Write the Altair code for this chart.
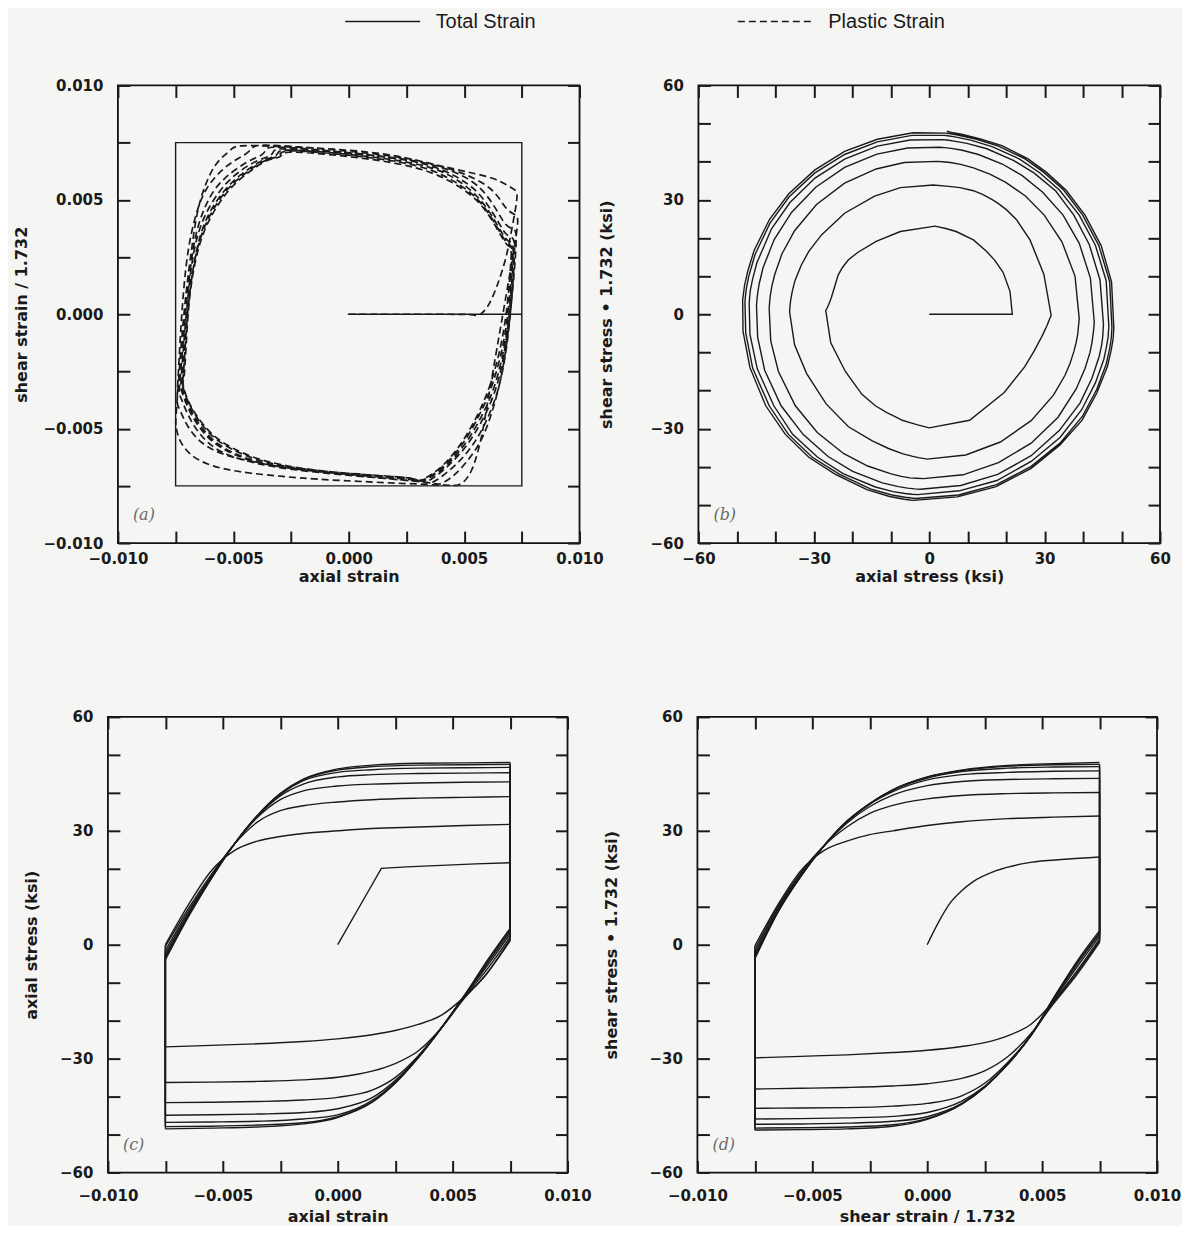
import altair as alt
import pandas as pd

# ---------------- values ----------------
E_MOD = 10500.0   # elastic slope (ksi per unit strain): ~20 ksi at 0.0019

# sampling positions (moving strain component) along one straight leg of the strain square
LEG_DOWN = [0.0075, 0.0065, 0.0055, 0.0045, 0.0035, 0.0025, 0.0015, 0.0, -0.0015, -0.0035, -0.0055, -0.0075]
LEG_UP = [-v for v in LEG_DOWN]
CORNER = 0.0075

# leg 0: axial strain 0 -> 0.0075, no shear
FIRST_AX_STRAIN = [0.0, 0.001, 0.0019, 0.003, 0.0045, 0.006, 0.0075]
FIRST_AX_STRESS = [0.0, 10.6, 20.1, 20.5, 20.9, 21.3, 21.6]
# leg 1: shear strain 0 -> 0.0075 at axial 0.0075
FIRST_SH_STRAIN = [0.0, 0.0005, 0.001, 0.0015, 0.002, 0.003, 0.0045, 0.006, 0.0075]
FIRST_SH_SHEAR = [0.0, 6.0, 11.0, 14.2, 16.6, 19.5, 21.7, 22.5, 23.1]
FIRST_SH_AXIAL = [21.6, 21.0, 19.2, 17.0, 14.8, 11.5, 7.0, 4.3, 1.5]

# axial strain +0.0075 -> -0.0075 at shear +0.0075 (cycles 1..7)
XM_AXIAL = [
    [1.5, -7.5, -13.8, -18.6, -21.0, -22.6, -23.7, -24.8, -25.5, -26.1, -26.5, -26.9],
    [1.0, -7.5, -14.2, -22.0, -28.0, -31.3, -33.3, -34.9, -35.6, -36.0, -36.2, -36.3],
    [2.0, -6.5, -13.8, -22.0, -29.3, -35.0, -38.3, -40.2, -40.9, -41.3, -41.5, -41.6],
    [2.8, -5.6, -13.6, -22.0, -29.5, -35.8, -40.3, -43.2, -44.2, -44.6, -44.8, -44.9],
    [3.4, -5.0, -13.5, -22.0, -29.7, -36.2, -41.0, -44.8, -45.9, -46.5, -46.7, -46.8],
    [3.9, -4.5, -13.5, -22.0, -29.8, -36.4, -41.4, -45.3, -46.9, -47.5, -47.8, -47.9],
    [4.3, -4.2, -13.5, -22.0, -29.8, -36.5, -41.5, -45.5, -47.2, -48.0, -48.3, -48.5],
]
XM_SHEAR = [
    [23.1, 21.7, 19.1, 16.2, 14.3, 12.2, 10.2, 6.5, 4.2, 2.6, 1.7, 1.0],
    [33.9, 33.2, 31.0, 26.5, 20.8, 16.5, 12.8, 8.8, 6.0, 3.8, 2.0, 0.6],
    [40.1, 39.8, 38.1, 34.4, 28.8, 21.9, 15.8, 10.3, 7.4, 5.0, 3.0, 1.5],
    [43.8, 43.6, 42.0, 38.5, 33.3, 26.7, 19.6, 12.2, 8.0, 5.5, 3.6, 2.2],
    [45.8, 45.7, 44.1, 40.7, 35.7, 29.3, 22.4, 13.5, 9.3, 6.3, 4.3, 2.8],
    [46.9, 46.9, 45.2, 41.9, 37.0, 30.8, 23.9, 15.6, 10.0, 6.9, 4.6, 3.2],
    [47.5, 47.6, 45.9, 42.7, 37.8, 31.6, 24.9, 16.8, 11.2, 7.6, 5.3, 3.7],
]
# shear strain +0.0075 -> -0.0075 at axial -0.0075
SM_SHEAR = [
    [1.0, -7.5, -15.0, -21.0, -24.0, -25.8, -26.8, -27.8, -28.4, -29.0, -29.4, -29.8],
    [0.6, -8.0, -15.5, -23.5, -29.5, -33.2, -35.2, -36.6, -37.2, -37.6, -37.8, -38.0],
    [1.5, -7.0, -15.0, -24.0, -31.0, -36.5, -39.8, -41.8, -42.5, -42.9, -43.0, -43.1],
    [2.2, -6.0, -14.6, -24.0, -31.5, -37.3, -41.2, -44.2, -45.2, -45.6, -45.8, -45.9],
    [2.8, -5.3, -14.3, -24.0, -31.5, -37.5, -41.8, -45.3, -46.5, -47.0, -47.2, -47.3],
    [3.2, -4.9, -14.1, -24.0, -31.5, -37.5, -42.0, -45.8, -47.4, -48.0, -48.2, -48.3],
    [3.7, -4.5, -14.0, -24.0, -31.5, -37.5, -42.0, -46.0, -47.8, -48.5, -48.7, -48.8],
]
SM_AXIAL = [
    [-26.9, -25.6, -21.8, -17.5, -14.0, -11.0, -9.0, -7.0, -5.0, -3.0, -1.5, 0.0],
    [-36.3, -35.0, -31.9, -26.8, -21.0, -14.8, -10.6, -6.8, -4.5, -2.8, -1.6, -0.5],
    [-41.6, -41.2, -39.2, -34.8, -29.1, -22.3, -16.0, -10.1, -7.3, -5.0, -3.3, -1.5],
    [-44.9, -44.6, -42.8, -38.5, -32.8, -26.3, -19.9, -12.2, -8.0, -5.6, -3.8, -2.3],
    [-46.8, -46.6, -44.7, -40.4, -35.5, -29.0, -22.4, -14.0, -9.4, -6.3, -4.5, -3.0],
    [-47.9, -47.7, -45.9, -41.6, -36.6, -30.4, -23.3, -15.3, -9.7, -6.3, -4.6, -3.5],
    [-48.5, -48.4, -46.6, -42.5, -37.4, -31.3, -24.4, -16.2, -10.3, -6.5, -5.0, -4.0],
]
# axial strain -0.0075 -> +0.0075 at shear -0.0075
XP_AXIAL = [
    [0.0, 10.5, 19.5, 24.8, 27.3, 28.5, 29.3, 30.0, 30.6, 31.0, 31.4, 31.7],
    [-0.5, 9.5, 18.5, 26.5, 32.3, 35.3, 36.6, 37.6, 38.2, 38.6, 38.8, 39.0],
    [-1.5, 8.8, 18.0, 26.5, 33.5, 38.2, 40.5, 41.8, 42.3, 42.6, 42.8, 42.9],
    [-2.3, 8.2, 17.8, 26.5, 33.8, 39.2, 42.3, 44.2, 44.8, 45.1, 45.2, 45.3],
    [-3.0, 7.8, 17.6, 26.5, 34.0, 39.6, 43.2, 45.4, 46.1, 46.5, 46.6, 46.7],
    [-3.5, 7.6, 17.5, 26.5, 34.0, 39.8, 43.5, 46.0, 46.9, 47.3, 47.4, 47.5],
    [-4.0, 7.3, 17.4, 26.5, 34.0, 39.8, 43.6, 46.3, 47.3, 47.8, 47.9, 48.0],
]
XP_SHEAR = [
    [-29.8, -27.8, -20.5, -13.8, -9.6, -7.3, -5.8, -4.3, -3.0, -2.0, -1.0, -0.3],
    [-38.0, -36.9, -33.5, -27.9, -21.2, -16.0, -12.9, -9.8, -7.4, -5.3, -3.2, -1.2],
    [-43.1, -42.1, -38.9, -33.8, -27.0, -19.6, -14.2, -10.0, -7.5, -5.3, -3.5, -2.0],
    [-45.9, -44.9, -42.0, -37.1, -30.5, -23.3, -16.8, -11.0, -8.2, -6.0, -4.2, -2.7],
    [-47.3, -46.3, -43.6, -38.6, -32.3, -25.1, -18.0, -11.8, -8.4, -6.0, -4.5, -3.2],
    [-48.3, -47.4, -44.7, -39.9, -33.8, -26.8, -19.8, -13.1, -9.0, -6.5, -5.0, -3.5],
    [-48.8, -47.9, -45.2, -40.4, -34.3, -27.7, -20.6, -13.8, -9.5, -6.5, -5.0, -3.7],
]
# shear strain -0.0075 -> +0.0075 at axial +0.0075 (cycles 2..8)
SP_SHEAR = [
    [-0.3, 10.5, 19.5, 24.8, 27.3, 29.0, 30.0, 31.4, 32.4, 33.2, 33.6, 33.9],
    [-1.2, 10.0, 19.0, 26.0, 31.0, 34.6, 36.7, 38.4, 39.3, 39.8, 40.0, 40.1],
    [-2.0, 9.5, 18.6, 26.0, 32.0, 36.4, 39.4, 41.9, 43.0, 43.5, 43.7, 43.8],
    [-2.7, 9.0, 18.3, 26.0, 32.3, 37.0, 40.3, 43.4, 44.8, 45.4, 45.7, 45.8],
    [-3.2, 8.8, 18.1, 26.0, 32.5, 37.1, 40.7, 43.9, 45.6, 46.5, 46.8, 46.9],
    [-3.5, 8.6, 18.0, 26.0, 32.5, 37.2, 40.8, 44.1, 45.9, 47.0, 47.4, 47.5],
    [-3.7, 8.5, 18.0, 26.0, 32.5, 37.2, 40.8, 44.2, 46.0, 47.2, 47.7, 48.0],
]
SP_AXIAL = [
    [31.7, 29.8, 26.2, 22.7, 20.2, 18.0, 16.5, 14.0, 11.5, 8.0, 4.5, 1.0],
    [39.0, 37.9, 34.5, 29.9, 25.0, 19.9, 15.9, 11.5, 8.2, 5.5, 3.5, 2.0],
    [42.9, 41.9, 39.0, 34.8, 29.5, 24.1, 19.0, 12.8, 8.6, 5.7, 4.0, 2.8],
    [45.3, 44.4, 41.6, 37.6, 32.9, 27.3, 22.0, 15.0, 9.8, 6.5, 4.6, 3.4],
    [46.7, 46.0, 43.2, 39.0, 33.9, 28.7, 23.5, 16.5, 11.0, 6.7, 4.8, 3.9],
    [47.5, 46.9, 44.1, 39.9, 35.0, 29.8, 24.8, 18.0, 12.3, 7.4, 5.2, 4.3],
    [48.0, 47.4, 44.7, 40.5, 35.6, 30.5, 25.6, 18.9, 13.3, 8.4, 5.8, 4.6],
]

SERIES = ["Total Strain", "Plastic Strain"]
STRAIN_TICKS = [-0.01, -0.0075, -0.005, -0.0025, 0.0, 0.0025, 0.005, 0.0075, 0.01]
STRESS_TICKS = [-60, -50, -40, -30, -20, -10, 0, 10, 20, 30, 40, 50, 60]

# ---------------- assemble the loading history ----------------
rows = []
seg_id = [0]


def add_leg(kind, eax, esh, sax, ssh):
    n = len(sax)
    for i in range(n):
        rows.append(dict(
            kind=kind, seg=seg_id[0],
            eps_ax=eax[i] if isinstance(eax, list) else eax,
            eps_sh=esh[i] if isinstance(esh, list) else esh,
            sig_ax=sax[i], sig_sh=ssh[i] if isinstance(ssh, list) else ssh,
            first=(i == 0)))
    seg_id[0] += 1


add_leg("first", FIRST_AX_STRAIN, 0.0, FIRST_AX_STRESS, 0.0)
add_leg("Sp", CORNER, FIRST_SH_STRAIN, FIRST_SH_AXIAL, FIRST_SH_SHEAR)
for k in range(7):
    add_leg("Xm", LEG_DOWN, CORNER, XM_AXIAL[k], XM_SHEAR[k])
    add_leg("Sm", -CORNER, LEG_DOWN, SM_AXIAL[k], SM_SHEAR[k])
    add_leg("Xp", LEG_UP, -CORNER, XP_AXIAL[k], XP_SHEAR[k])
    add_leg("Sp", CORNER, LEG_UP, SP_AXIAL[k], SP_SHEAR[k])

df = pd.DataFrame(rows)
df["t"] = range(len(df))
# plastic strain = total strain - stress / elastic slope
df["pl_ax"] = df["eps_ax"] - df["sig_ax"] / E_MOD
df["pl_sh"] = df["eps_sh"] - df["sig_sh"] / E_MOD

# continuous path (joint points shared by consecutive legs kept once)
path = df[~(df["first"] & (df["seg"] > 0))].copy()

tot = path[["t", "eps_ax", "eps_sh"]].rename(columns={"eps_ax": "px", "eps_sh": "py"})
tot["series"] = SERIES[0]
pla = path[["t", "pl_ax", "pl_sh"]].rename(columns={"pl_ax": "px", "pl_sh": "py"})
pla["series"] = SERIES[1]

# ---------------- styling helpers ----------------
INK = "#1a1a1a"
TICK = 12
AXFONT = "DejaVu Sans"
LEGFONT = "Liberation Sans"
LW = 1.4

strain_lab = "abs(round(datum.value*10000)) % 50 == 0 ? format(datum.value, '.3f') : ''"
stress_lab = "abs(round(datum.value)) % 30 == 0 ? format(datum.value, 'd') : ''"


def main_axis(orient, vals, expr, title, lpad, tpad):
    return alt.Axis(orient=orient, values=vals, labelExpr=expr, title=title,
                    tickSize=TICK, offset=-TICK, domain=False, grid=False,
                    tickWidth=2, tickColor=INK, labelPadding=lpad,
                    titlePadding=tpad, labelOverlap=False, labelFlush=False,
                    labelBound=False)


def tick_axis(orient, vals):
    return alt.Axis(orient=orient, values=vals, labels=False, title=None,
                    tickSize=TICK, offset=-TICK, domain=False, grid=False,
                    tickWidth=2, tickColor=INK)


def sc(dom):
    return alt.Scale(domain=dom, nice=False, zero=False)


SD = [-0.01, 0.01]
SS = [-60, 60]


def letter(txt, h):
    return alt.Chart(pd.DataFrame({"lab": [txt]})).mark_text(
        font="DejaVu Serif", fontStyle="italic", fontSize=16, color="#6a6a6a",
        align="left", baseline="middle").encode(
        x=alt.value(15), y=alt.value(h - 28), text="lab:N")


def spacer(w):
    return alt.Chart(pd.DataFrame({"lab": [""]})).mark_text(opacity=0).encode(
        x=alt.value(0), y=alt.value(0), text="lab:N").properties(
        width=w, height=1, view=alt.ViewBackground(strokeOpacity=0, fillOpacity=0))


dash = alt.StrokeDash("series:N",
                      scale=alt.Scale(domain=SERIES, range=[[1, 0], [7, 4]]),
                      legend=alt.Legend(title=None, orient="none", direction="horizontal",
                                        legendX=265, legendY=-74,
                                        symbolType="M-7.5,0H7.5", symbolSize=100,
                                        symbolStrokeWidth=1.4, symbolStrokeColor=INK,
                                        labelFont=LEGFONT, labelFontSize=20, labelColor=INK,
                                        labelOffset=43, columnPadding=198))

WA, HA = 462, 458
WC, HC = 460, 456

# ---- panel (a): strain space ----
a_tot = alt.Chart(tot).mark_line(color=INK, strokeWidth=LW).encode(
    x=alt.X("px:Q", scale=sc(SD), axis=main_axis("bottom", STRAIN_TICKS, strain_lab, "axial strain", 8, 2)),
    y=alt.Y("py:Q", scale=sc(SD), axis=main_axis("left", STRAIN_TICKS, strain_lab, "shear strain / 1.732", 15, 13)),
    strokeDash=dash, order="t:Q")
a_pla = alt.Chart(pla).mark_line(color=INK, strokeWidth=1.7, interpolate="basis").encode(
    x=alt.X("px:Q", scale=sc(SD), axis=tick_axis("top", STRAIN_TICKS)),
    y=alt.Y("py:Q", scale=sc(SD), axis=tick_axis("right", STRAIN_TICKS)),
    strokeDash=dash, order="t:Q")
panel_a = alt.layer(a_tot, a_pla, letter("(a)", HA)).resolve_axis(
    x="independent", y="independent").properties(width=WA, height=HA)

# ---- panel (b): stress space ----
b_main = alt.Chart(path).mark_line(color=INK, strokeWidth=LW).encode(
    x=alt.X("sig_ax:Q", scale=sc(SS), axis=main_axis("bottom", STRESS_TICKS, stress_lab, "axial stress (ksi)", 8, 2)),
    y=alt.Y("sig_sh:Q", scale=sc(SS), axis=main_axis("left", STRESS_TICKS, stress_lab, "shear stress \u2022 1.732 (ksi)", 15, 36)),
    order="t:Q")
b_tick = alt.Chart(path).mark_line(strokeOpacity=0).encode(
    x=alt.X("sig_ax:Q", scale=sc(SS), axis=tick_axis("top", STRESS_TICKS)),
    y=alt.Y("sig_sh:Q", scale=sc(SS), axis=tick_axis("right", STRESS_TICKS)),
    order="t:Q")
panel_b = alt.layer(b_main, b_tick, letter("(b)", HA)).resolve_axis(
    x="independent", y="independent").properties(width=WA, height=HA)

# ---- panel (c): axial stress vs axial strain ----
c_br = alt.Chart(df).transform_filter("datum.kind == 'Xm' || datum.kind == 'Xp'").mark_line(
    color=INK, strokeWidth=LW, interpolate="monotone").encode(
    x=alt.X("eps_ax:Q", scale=sc(SD), axis=main_axis("bottom", STRAIN_TICKS, strain_lab, "axial strain", 16, 5)),
    y=alt.Y("sig_ax:Q", scale=sc(SS), axis=main_axis("left", STRESS_TICKS, stress_lab, "axial stress (ksi)", 15, 20)),
    detail="seg:N")
c_vert = alt.Chart(df).transform_filter("datum.kind != 'Xm' && datum.kind != 'Xp'").mark_line(
    color=INK, strokeWidth=LW).encode(
    x=alt.X("eps_ax:Q", scale=sc(SD), axis=tick_axis("top", STRAIN_TICKS)),
    y=alt.Y("sig_ax:Q", scale=sc(SS), axis=tick_axis("right", STRESS_TICKS)),
    detail="seg:N", order="t:Q")
panel_c = alt.layer(c_br, c_vert, letter("(c)", HC)).resolve_axis(
    x="independent", y="independent").properties(width=WC, height=HC)

# ---- panel (d): shear stress vs shear strain ----
d_br = alt.Chart(df).transform_filter("datum.kind == 'Sm' || datum.kind == 'Sp'").mark_line(
    color=INK, strokeWidth=LW, interpolate="monotone").encode(
    x=alt.X("eps_sh:Q", scale=sc(SD), axis=main_axis("bottom", STRAIN_TICKS, strain_lab, "shear strain / 1.732", 16, 5)),
    y=alt.Y("sig_sh:Q", scale=sc(SS), axis=main_axis("left", STRESS_TICKS, stress_lab, "shear stress \u2022 1.732 (ksi)", 15, 30)),
    detail="seg:N")
d_vert = alt.Chart(df).transform_filter("datum.kind == 'Xm' || datum.kind == 'Xp'").mark_line(
    color=INK, strokeWidth=LW).encode(
    x=alt.X("eps_sh:Q", scale=sc(SD), axis=tick_axis("top", STRAIN_TICKS)),
    y=alt.Y("sig_sh:Q", scale=sc(SS), axis=tick_axis("right", STRESS_TICKS)),
    detail="seg:N", order="t:Q")
panel_d = alt.layer(d_br, d_vert, letter("(d)", HC)).resolve_axis(
    x="independent", y="independent").properties(width=WC, height=HC)

# top row sits 10 px to the right of the bottom row, as in the scan
top = alt.hconcat(spacer(5), panel_a, spacer(109), panel_b, spacing=5, bounds="flush")
bottom = alt.hconcat(panel_c, panel_d, spacing=130, bounds="flush")

chart = alt.vconcat(top, bottom, spacing=124).properties(
    background="#f5f6f4",
    padding={"left": 5, "top": 3, "right": 0, "bottom": 0},
).configure_view(stroke="#111111", strokeWidth=1.8).configure_axis(
    labelFont=AXFONT, labelFontSize=15, labelFontWeight="bold", labelColor=INK,
    titleFont=AXFONT, titleFontSize=16, titleFontWeight="bold", titleColor=INK,
)

chart.save("out.html", embed_options={"renderer": "svg", "actions": False})
